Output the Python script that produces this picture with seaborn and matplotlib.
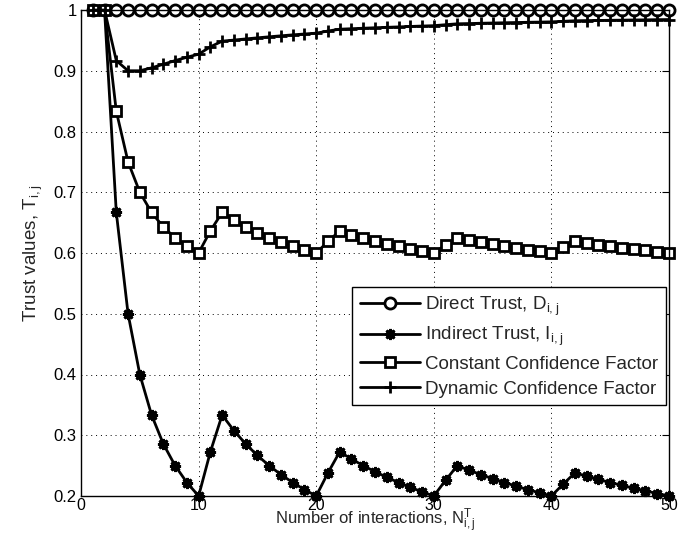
import matplotlib
matplotlib.use("Agg")
import matplotlib.pyplot as plt
import seaborn as sns
import numpy as np
import pandas as pd

# trust values vs number of interactions
interactions = list(range(1, 51))

direct = [1.0] * 50

indirect = [1.0, 1.0, 0.6667, 0.5, 0.4, 0.3333, 0.2857, 0.25, 0.2222, 0.2,
            0.2727, 0.3333, 0.3077, 0.2857, 0.2667, 0.25, 0.2353, 0.2222, 0.2105, 0.2,
            0.2381, 0.2727, 0.2609, 0.25, 0.24, 0.2308, 0.2222, 0.2143, 0.2069, 0.2,
            0.2258, 0.25, 0.2424, 0.2353, 0.2286, 0.2222, 0.2162, 0.2105, 0.2051, 0.2,
            0.2195, 0.2381, 0.2326, 0.2273, 0.2222, 0.2174, 0.2128, 0.2083, 0.2041, 0.2]

constant_cf = [1.0, 1.0, 0.8333, 0.75, 0.7, 0.6667, 0.6429, 0.625, 0.6111, 0.6,
               0.6364, 0.6667, 0.6538, 0.6429, 0.6333, 0.625, 0.6176, 0.6111, 0.6053, 0.6,
               0.6190, 0.6364, 0.6304, 0.625, 0.62, 0.6154, 0.6111, 0.6071, 0.6034, 0.6,
               0.6129, 0.625, 0.6212, 0.6176, 0.6143, 0.6111, 0.6081, 0.6053, 0.6026, 0.6,
               0.6098, 0.6190, 0.6163, 0.6136, 0.6111, 0.6087, 0.6064, 0.6042, 0.6020, 0.6]

dynamic_cf = [1.0, 1.0, 0.9167, 0.9, 0.9, 0.9048, 0.9107, 0.9167, 0.9222, 0.9273,
              0.9394, 0.9487, 0.9505, 0.9524, 0.9542, 0.9559, 0.9575, 0.9591, 0.9605, 0.9619,
              0.9654, 0.9684, 0.9692, 0.97, 0.9708, 0.9715, 0.9722, 0.9729, 0.9736, 0.9742,
              0.9758, 0.9773, 0.9777, 0.9782, 0.9786, 0.9790, 0.9794, 0.9798, 0.9801, 0.9805,
              0.9814, 0.9823, 0.9826, 0.9828, 0.9831, 0.9833, 0.9836, 0.9838, 0.9841, 0.9843]

xticks = [0, 10, 20, 30, 40, 50]
yticks = [0.2, 0.3, 0.4, 0.5, 0.6, 0.7, 0.8, 0.9, 1.0]
ytick_labels = ["0.2", "0.3", "0.4", "0.5", "0.6", "0.7", "0.8", "0.9", "1"]

sns.set_style("white")
plt.rcParams["font.family"] = ["Liberation Sans", "DejaVu Sans"]
plt.rcParams["mathtext.default"] = "regular"
fs = 13.5

fig = plt.figure(figsize=(6.78, 5.35), dpi=100)
ax = fig.add_axes([0.1195, 0.0729, 0.8672, 0.9084])

lw = 2.0
common = dict(ax=ax, color="black", lw=lw, clip_on=False)
sns.lineplot(x=interactions, y=direct, marker="o", ms=8, mfc="white",
             mec="black", mew=2, label="Direct Trust, $D_{i,j}$", **common)
sns.lineplot(x=interactions, y=indirect, marker=(8, 2, 0), ms=8, mec="black",
             mew=2, label="Indirect Trust, $I_{i,j}$", **common)
sns.lineplot(x=interactions, y=constant_cf, marker="s", ms=7, mfc="white",
             mec="black", mew=2, label="Constant Confidence Factor", **common)
sns.lineplot(x=interactions, y=dynamic_cf, marker="+", ms=9, mec="black",
             mew=2, label="Dynamic Confidence Factor", **common)

ax.set_xlim(0, 50)
ax.set_ylim(0.2, 1.0)
ax.set_xticks(xticks)
ax.set_yticks(yticks)
ax.set_yticklabels(ytick_labels)
ax.grid(True, color="black", linestyle=(0, (1, 4)), linewidth=0.7)
ax.tick_params(direction="in", top=True, right=True, length=5, width=0.8,
               labelsize=11.5, colors="black", pad=1.5)
ax.tick_params(axis="y", labelsize=12, pad=3)
for s in ax.spines.values():
    s.set_color("black")
    s.set_linewidth(1.0)

ax.set_xlabel("Number of interactions, $N^T_{i,j}$", fontsize=12, va="bottom")
ax.xaxis.set_label_coords(0.5, -0.080)
ax.set_ylabel("Trust values, $T_{i,j}$", fontsize=fs, labelpad=6)

leg = ax.legend(loc="lower right", bbox_to_anchor=(0.995, 0.187), borderaxespad=0,
                fancybox=False, edgecolor="black", framealpha=1, fontsize=fs,
                handlelength=3.2, handletextpad=0.3, labelspacing=0.4,
                borderpad=0.4)
leg.get_frame().set_linewidth(1.0)

fig.savefig("out.png", dpi=100)
